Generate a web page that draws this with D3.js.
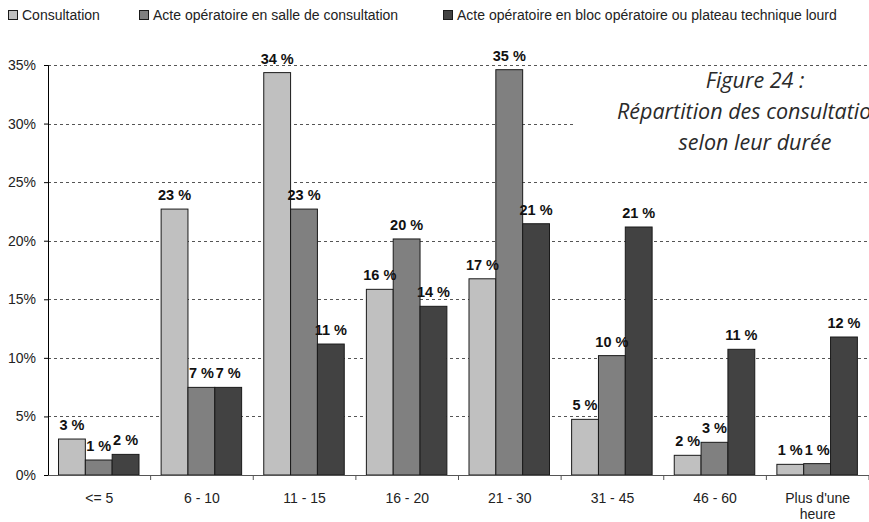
<!DOCTYPE html>
<html>
<head>
<meta charset="utf-8">
<script src="https://cdn.jsdelivr.net/npm/d3@7"></script>
<style>
  body { margin: 0; background: #fff; }
  text { font-family: "Liberation Sans", Arial, sans-serif; }
</style>
</head>
<body>
<div id="chart"></div>
<script>
// categories (durée en minutes)
var categories = ["<= 5", "6 - 10", "11 - 15", "16 - 20", "21 - 30", "31 - 45", "46 - 60", "Plus d'une\nheure"];
var seriesNames = ["Consultation", "Acte opératoire en salle de consultation", "Acte opératoire en bloc opératoire ou plateau technique lourd"];
// values in %
var consultation = [3.07, 22.7, 34.35, 15.85, 16.75, 4.75, 1.68, 0.91];
var acteSalle    = [1.28, 7.48, 22.7, 20.15, 34.6, 10.19, 2.79, 0.97];
var acteBloc     = [1.76, 7.48, 11.18, 14.4, 21.45, 21.17, 10.73, 11.78];
var yTicks = [0, 5, 10, 15, 20, 25, 30, 35];
var titleLines = ["Figure 24 :", "Répartition des consultations", "selon leur durée"];

var colors = ["#c0c0c0", "#808080", "#424242"];
var series = [consultation, acteSalle, acteBloc];

var width = 869, height = 522;
var margin = {top: 65, left: 48, bottom: 47};

var svg = d3.select("#chart").append("svg")
    .attr("width", width)
    .attr("height", height);

svg.append("rect").attr("width", width).attr("height", height).attr("fill", "#fff");

// scales
var y = d3.scaleLinear().domain([0, 35]).range([height - margin.bottom, margin.top]);
var x0 = d3.scaleBand().domain(categories).range([margin.left, width]).padding(0);
var x1 = d3.scaleBand().domain([0, 1, 2]).range([10.5, 91]).padding(0);

// grid lines
svg.append("g")
  .selectAll("line")
  .data(yTicks.filter(function(d) { return d > 0; }))
  .enter().append("line")
    .attr("x1", margin.left)
    .attr("x2", width)
    .attr("y1", function(d) { return Math.round(y(d)) + 0.5; })
    .attr("y2", function(d) { return Math.round(y(d)) + 0.5; })
    .attr("stroke", "#555")
    .attr("stroke-width", 1)
    .attr("stroke-dasharray", "3,3");

// title box (hides the grid behind)
svg.append("rect")
    .attr("x", 575).attr("y", 70)
    .attr("width", width - 575).attr("height", 102)
    .attr("fill", "#fff");

svg.append("g")
  .selectAll("text")
  .data(titleLines)
  .enter().append("text")
    .attr("x", 755)
    .attr("y", function(d, i) { return 88 + i * 31; })
    .attr("text-anchor", "middle")
    .style("font-family", "'Open Sans', Lato, sans-serif")
    .style("font-style", "italic")
    .style("font-size", "21.5px")
    .attr("fill", "#2a2a2a")
    .text(function(d) { return d; });

// bars
var groups = svg.append("g")
  .selectAll("g")
  .data(categories)
  .enter().append("g")
    .attr("transform", function(d) { return "translate(" + x0(d) + ",0)"; });

groups.selectAll("rect")
  .data(function(d, ci) { return series.map(function(s, si) { return {si: si, v: s[ci]}; }); })
  .enter().append("rect")
    .attr("x", function(d) { return x1(d.si); })
    .attr("y", function(d) { return y(d.v); })
    .attr("width", x1.bandwidth())
    .attr("height", function(d) { return y(0) - y(d.v); })
    .attr("fill", function(d) { return colors[d.si]; })
    .attr("stroke", "#1a1a1a")
    .attr("stroke-width", 1);

groups.selectAll("text")
  .data(function(d, ci) { return series.map(function(s, si) { return {si: si, v: s[ci]}; }); })
  .enter().append("text")
    .attr("x", function(d) { return x1(d.si) + x1.bandwidth() / 2; })
    .attr("y", function(d) { return y(d.v) - 9; })
    .attr("text-anchor", "middle")
    .style("font-size", "14.5px")
    .style("font-weight", "bold")
    .attr("fill", "#111")
    .text(function(d) { return Math.round(d.v) + " %"; });

// y axis
var yAxis = svg.append("g")
    .attr("transform", "translate(" + margin.left + ",0)")
    .call(d3.axisLeft(y).tickValues(yTicks).tickSize(4).tickPadding(8).tickFormat(function(d) { return d + "%"; }));
yAxis.select(".domain").attr("stroke", "#000");
yAxis.selectAll(".tick line").attr("stroke", "#000");
yAxis.selectAll("text").style("font-size", "14px").attr("fill", "#222")
    .style("font-family", "'Liberation Sans', Arial, sans-serif");

// x axis
var xAxis = svg.append("g")
    .attr("transform", "translate(0," + y(0) + ")")
    .call(d3.axisBottom(x0).tickSize(0).tickPadding(18));
xAxis.select(".domain").attr("stroke", "#555");
xAxis.selectAll("text")
    .style("font-size", "14px")
    .attr("fill", "#222")
    .style("font-family", "'Liberation Sans', Arial, sans-serif")
    .each(function(d) {
      var lines = d.split("\n");
      var t = d3.select(this).text(null);
      lines.forEach(function(l, i) {
        t.append("tspan").attr("x", 0).attr("dy", i === 0 ? "0.71em" : "1.15em").text(l);
      });
    });

// boundary ticks between categories
xAxis.append("g")
  .selectAll("line")
  .data(categories.slice(1).concat(["end"]))
  .enter().append("line")
    .attr("x1", function(d, i) { return margin.left + (i + 1) * x0.step(); })
    .attr("x2", function(d, i) { return margin.left + (i + 1) * x0.step(); })
    .attr("y1", 0).attr("y2", 5)
    .attr("stroke", "#555");

// legend
var legX = [8, 139, 443];
var legend = svg.append("g")
  .selectAll("g")
  .data(seriesNames)
  .enter().append("g")
    .attr("transform", function(d, i) { return "translate(" + legX[i] + ",10)"; });
legend.append("rect")
    .attr("x", 0.5).attr("y", 0.5)
    .attr("width", 9).attr("height", 9)
    .attr("fill", function(d, i) { return colors[i]; })
    .attr("stroke", "#1a1a1a");
legend.append("text")
    .attr("x", 14).attr("y", 10)
    .style("font-size", "14px")
    .attr("fill", "#222")
    .text(function(d) { return d; });
</script>
</body>
</html>
